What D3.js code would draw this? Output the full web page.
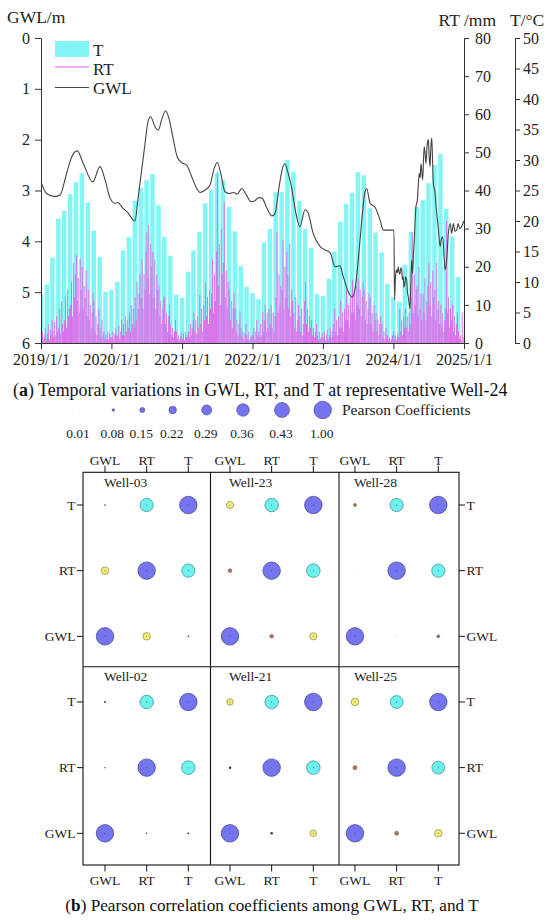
<!DOCTYPE html>
<html><head><meta charset="utf-8">
<script src="https://cdn.jsdelivr.net/npm/d3@7"></script>
<style>body{margin:0;background:#fff}svg{display:block}</style>
</head><body><svg id="c" width="550" height="920"></svg>
<script>
// ---------------- DATA ----------------
const yearTicks = ["2019-01-01","2020-01-01","2021-01-01","2022-01-01","2023-01-01","2024-01-01","2025-01-01"];
const gwlTicks = [0,1,2,3,4,5,6];
const rtTicks = [0,10,20,30,40,50,60,70,80];
const tTicks = [0,5,10,15,20,25,30,35,40,45,50];
// monthly temperature (°C), Jan 2019 .. Dec 2024
const tempMonthly = [
 7.9,9.6,14.0,20.4,21.7,24.4,26.4,27.8,23.0,18.4,14.1,8.4,
 8.7,10.0,15.2,17.4,23.3,25.4,26.7,27.7,22.6,17.4,14.3,7.9,
 7.4,11.7,15.2,18.2,22.9,25.1,27.8,26.7,22.3,18.3,12.6,9.2,
 8.2,7.2,16.5,18.7,24.7,24.8,30.0,28.0,23.3,18.7,15.6,8.0,
 7.7,10.5,15.0,19.9,22.8,24.6,28.0,27.5,22.1,18.1,14.8,9.7,
 7.5,6.8,12.8,18.2,22.3,23.4,26.2,29.2,31.0,22.0,17.5,10.8];
// rainfall (mm), six 5-day maxima per month
const rt2019 = [1.5,3,0.8,2,4,1.2, 2.5,5,1,3.5,2,6, 3,1.5,5.5,2,7,3, 4,9,2.5,11,5,3, 6,12,4,14,7,9, 10,16,7,21,12,18, 23,11,17,8,22,14, 20,9,15,12,19,7, 14,6,10,4,8,13, 11,3,7,2,5,9, 4,1.5,6,2,3,1, 2,0.8,3,1,2.5,1.5];
const rt2020 = [1.5,3,1,2.5,4,2, 2,4.5,1,3,6,2, 5,2,7,3,6,4, 8,3,10,5,9,4, 12,6,16,9,13,18, 12,22,9,18,14,24, 29,17,31,13,26,20, 24,12,22,9,18,14, 15,7,11,5,9,12, 12,5,8,3,7,10, 5,2,4,1.5,3,6, 3,1,2,0.8,1.5,2.5];
const rt2021 = [1,2.5,0.8,3,1.5,2, 3,1.5,5,2,4,6, 8,3,6,2.5,7,4, 12.6,5,9,3,10,6, 16,7,12,5,14,9, 13,22,8,18,11,24, 45,15,26,10,30,18, 21,37,12,19,9,16, 14,6,11,4,9,13, 9,3,6,2,5,8, 4,1.5,3,1,2.5,5, 2,1,3,0.8,1.5,2];
const rt2022 = [2,4,1,3,6,2, 3,1.5,5,2,8,3, 6,10,3,8,4,9, 5,10,4,8,3,7, 12,29,8,18,10,15, 14,27,9,20,12,24, 18,9,26,7,14,11, 8,4,12,3,6,10, 7,3,9,2,5,11, 16,5,9,3,7,4, 6,2,4,1.5,3,5, 2,0.8,3,1,1.5,2.5];
const rt2023 = [1.5,3,0.8,2,3.5,1, 2,4,1.5,3,5,2, 9,3,6,2,7,4, 11,4,8,3,9,6, 14,6,10,4,12,8, 16.5,8,13,6,15,10, 17,9,14,7,12,16, 14,6,11,5,9,13, 12,5,8,3,10,6, 8,3,6,2,5,7, 5,1.5,3,1,4,2, 2,0.8,1.5,0.5,1,2];
const rt2024 = [3,1,2,0.8,2.5,1.5, 9,3,6,2,7,4, 9,4,7,3,8,5, 12,29,8,18,10,14, 15,7,20,9,13,6, 13,8,17,6,11,15, 21,10,16,7,19,12, 14,6,21,9,11,5, 10,4,8,3,6,9, 32,8,12,4,9,6, 10,3,7,2,5,8, 3,1,2,0.8,8,1.5];
// groundwater level (m below surface)
const gwlDates = ["2019-01-01","2019-01-30","2019-03-14","2019-04-09","2019-05-14","2019-06-09","2019-07-08","2019-08-08","2019-09-26","2019-11-03","2019-11-29","2019-12-25",
"2020-01-19","2020-02-04","2020-03-01","2020-03-27","2020-04-22","2020-05-02","2020-05-18","2020-05-28","2020-06-19","2020-07-10","2020-07-22","2020-08-14","2020-08-31","2020-09-17","2020-10-08","2020-10-25","2020-11-17","2020-12-07","2020-12-30",
"2021-01-25","2021-02-20","2021-03-18","2021-04-04","2021-04-30","2021-05-26","2021-06-17","2021-07-03","2021-07-20","2021-08-11","2021-09-03","2021-09-24","2021-10-14","2021-11-06","2021-12-02","2021-12-24",
"2022-01-14","2022-02-04","2022-02-19","2022-03-17","2022-04-12","2022-04-28","2022-05-18","2022-06-03","2022-06-18","2022-07-04","2022-07-23","2022-08-09","2022-09-04","2022-09-30","2022-10-16","2022-11-11","2022-12-17",
"2023-01-12","2023-02-07","2023-03-05","2023-03-30","2023-04-17","2023-05-12","2023-06-01","2023-06-16","2023-07-03","2023-07-21","2023-08-07","2023-08-16","2023-09-02","2023-09-28","2023-10-24","2023-11-10","2023-12-01","2024-01-04",
"2024-01-07","2024-01-12","2024-01-17","2024-01-22","2024-01-26","2024-01-30","2024-02-04","2024-02-08","2024-02-13","2024-02-17","2024-02-21","2024-02-25","2024-03-01","2024-03-05","2024-03-10","2024-03-14","2024-03-18","2024-03-22","2024-03-27",
"2024-04-01","2024-04-05","2024-04-10","2024-04-14","2024-04-18","2024-04-27","2024-05-04","2024-05-09","2024-05-14","2024-05-19","2024-05-23","2024-06-01","2024-06-05","2024-06-09","2024-06-14","2024-06-18","2024-06-24","2024-06-30",
"2024-07-04","2024-07-09","2024-07-13","2024-07-18","2024-07-22","2024-07-26","2024-08-04","2024-08-09","2024-08-13","2024-08-22","2024-08-30","2024-09-06","2024-09-13","2024-09-20","2024-09-25","2024-10-03","2024-10-12","2024-10-21","2024-10-29",
"2024-11-07","2024-11-15","2024-11-24","2024-12-02","2024-12-10","2024-12-20","2024-12-31"];
const gwlValues = [2.83,3.06,3.12,3.09,2.66,2.34,2.22,2.47,2.83,2.53,2.79,3.15,
3.25,3.24,3.35,3.44,3.58,3.60,3.15,2.85,2.2,1.62,1.55,1.75,1.81,1.61,1.43,1.58,2.0,2.34,2.45,
2.5,2.73,2.96,3.04,2.99,2.89,2.56,2.45,2.66,3.02,3.06,3.04,3.07,2.96,3.1,3.22,
3.2,3.14,3.15,3.35,3.5,3.45,2.95,2.6,2.47,2.65,2.95,3.35,3.71,3.38,3.44,3.84,4.1,
4.17,4.22,4.5,4.48,4.7,4.99,5.1,4.95,4.37,3.6,3.02,2.96,3.25,3.33,3.58,3.78,3.78,3.78,
5.15,4.7,4.56,4.62,4.5,4.6,4.65,4.52,4.56,4.75,4.7,4.9,4.82,4.7,4.76,5.0,5.09,5.2,5.32,
4.8,4.37,4.63,4.24,4.0,3.32,3.19,2.9,2.66,2.75,2.47,2.79,2.4,2.14,2.3,2.47,2.1,2.0,
2.3,2.53,2.15,1.97,2.4,2.86,3.05,3.3,3.45,3.8,4.1,3.95,3.91,4.3,4.56,4.37,3.84,3.65,3.84,
3.65,3.8,3.78,3.65,3.75,3.71,3.6];
// Pearson correlations
const wells = ["Well-03","Well-23","Well-28","Well-02","Well-21","Well-25"];
const vars = ["GWL","RT","T"];
const rowVars = ["T","RT","GWL"];
const rTGWL  = [0.04,0.21,0.09,0.05,0.19,0.22];
const rRTGWL = [0.22,0.11,0.01,0.03,0.08,0.12];
const rTRT   = [0.38,0.39,0.38,0.39,0.39,0.37];
const legendLevels = [0.01,0.08,0.15,0.22,0.29,0.36,0.43,1.00];

// ---------------- DRAW ----------------
const svg = d3.select("#c");
const parse = d3.timeParse("%Y-%m-%d");
const FONT = "Liberation Serif, DejaVu Serif, serif";
svg.style("font-family", FONT);
const AX = "#333";
const PINK = "#e65ae8";
const x = d3.scaleTime().domain([parse("2019-01-01"), parse("2025-01-01")]).range([41, 464]);
const yG = d3.scaleLinear().domain([0, 6]).range([38, 343]);
const yR = d3.scaleLinear().domain([0, 80]).range([343, 38]);
const yT = d3.scaleLinear().domain([0, 50]).range([343, 38]);

svg.append("clipPath").attr("id","pc").append("rect").attr("x",41).attr("y",30).attr("width",423).attr("height",313);
const plot = svg.append("g").attr("clip-path","url(#pc)");

// T bars
const bw = 4.5;
plot.append("g").selectAll("rect").data(tempMonthly).join("rect")
  .attr("x",(d,i)=>x(new Date(2019,i,1))-bw/2).attr("width",bw)
  .attr("y",d=>yT(d)).attr("height",d=>yT(0)-yT(d)).attr("fill","#82f6f6");

// RT needles
const rtAll = [];
[rt2019,rt2020,rt2021,rt2022,rt2023,rt2024].forEach((arr,yi)=>arr.forEach((v,i)=>{
  rtAll.push({date:new Date(2019+yi, Math.floor(i/6), 3+5*(i%6)), v});
}));
plot.append("g").selectAll("line").data(rtAll).join("line")
  .attr("x1",d=>x(d.date)).attr("x2",d=>x(d.date))
  .attr("y1",yR(0)).attr("y2",d=>yR(d.v))
  .attr("stroke",PINK).attr("stroke-width",0.85);

// GWL line
const gwl = gwlDates.map((d,i)=>({date:parse(d), v:gwlValues[i]}));
plot.append("path").datum(gwl)
  .attr("d", d3.line().x(d=>x(d.date)).y(d=>yG(d.v)).curve(d3.curveMonotoneX))
  .attr("fill","none").attr("stroke","#444").attr("stroke-width",1.1);

function styleAxis(g, fs){
  g.attr("font-family", null).attr("font-size", null);
  g.selectAll("path.domain").attr("stroke",AX).attr("stroke-width",1);
  g.selectAll(".tick line").attr("stroke",AX);
  g.selectAll("text").style("font-family",FONT).style("font-size",fs+"px").attr("fill","#222");
}
const fmt = d3.timeFormat("%Y/%-m/%-d");
svg.append("g").attr("transform","translate(0,343)")
  .call(d3.axisBottom(x).tickValues(yearTicks.map(parse)).tickFormat(fmt).tickSize(6).tickSizeOuter(0).tickPadding(5))
  .call(g=>styleAxis(g,16));
svg.append("g").attr("transform","translate(41,0)")
  .call(d3.axisLeft(yG).tickValues(gwlTicks).tickFormat(d3.format("d")).tickSize(6).tickSizeOuter(0).tickPadding(5))
  .call(g=>styleAxis(g,16));
svg.append("g").attr("transform","translate(464,0)")
  .call(d3.axisRight(yR).tickValues(rtTicks).tickFormat(d3.format("d")).tickSize(5).tickSizeOuter(0).tickPadding(6))
  .call(g=>styleAxis(g,16));
svg.append("g").attr("transform","translate(515,0)")
  .call(d3.axisRight(yT).tickValues(tTicks).tickFormat(d3.format("d")).tickSize(5).tickSizeOuter(0).tickPadding(3))
  .call(g=>styleAxis(g,16));

const txt = (xx,yy,s,fs,anchor)=>svg.append("text").attr("x",xx).attr("y",yy).text(s)
  .style("font-family",FONT).style("font-size",fs+"px").attr("fill","#222").attr("text-anchor",anchor||"start");
txt(7,23,"GWL/m",17.5);
txt(496,26,"RT /mm",17.5,"end");
txt(510,26,"T/°C",17.5);

// legend (a)
svg.append("rect").attr("x",55).attr("y",41).attr("width",34).attr("height",16).attr("fill","#82f6f6");
svg.append("line").attr("x1",55).attr("x2",89).attr("y1",67).attr("y2",67).attr("stroke",PINK).attr("stroke-width",1.2);
svg.append("line").attr("x1",55).attr("x2",89).attr("y1",87.5).attr("y2",87.5).attr("stroke","#444").attr("stroke-width",1.2);
txt(93,55.5,"T",17);
txt(93,75,"RT",17);
txt(93,94,"GWL",17);

// caption (a)
const capA = svg.append("text").attr("x",13).attr("y",396).style("font-family",FONT).style("font-size","17.9px").attr("fill","#111");
capA.append("tspan").text("(");
capA.append("tspan").attr("font-weight","bold").text("a");
capA.append("tspan").text(") Temporal variations in GWL, RT, and T at representative Well-24");

// ---------------- Pearson panel ----------------
const rScale = d3.scaleLinear().domain(legendLevels).range(legendLevels.map((d,i)=> i===0 ? 0.45 : 1.25*i));
const cScale = d3.scaleThreshold().domain([0.02,0.085,0.17,0.3,0.6])
  .range(["#bbbbbb","#333333","#c8896b","#f3ef78","#6cf0f0","#7474ee"]);

// size legend
const legX = [79,113.3,142.3,172.7,206.7,243,282,322.7];
svg.append("g").selectAll("circle").data(legendLevels).join("circle")
  .attr("cx",(d,i)=>legX[i]).attr("cy",410).attr("r",d=>rScale(d))
  .attr("fill",d=>d<0.05?"#bbb":"#7474ee").attr("stroke",d=>d<0.05?"none":"#3c3c8a").attr("stroke-width",0.6);
svg.append("g").selectAll("text").data(legendLevels).join("text")
  .attr("x",(d,i)=>legX[i]-1).attr("y",438).attr("text-anchor","middle")
  .style("font-family",FONT).style("font-size","13.5px").attr("fill","#222").text(d=>d.toFixed(2));
txt(342,414.5,"Pearson Coefficients",15.5);

// grid
const colX = d3.scaleLinear().domain([0,8]).range([105,438.3]);
const rowY = d3.scaleLinear().domain([0,5]).range([505,833.3]);
const frameL = 83, frameR = 459, frameT = 472.3, frameB = 865, frameM = 666.7;
const dividers = [210.5, 339];
const fr = svg.append("g").attr("stroke","#111").attr("stroke-width",1.1).attr("fill","none");
fr.append("rect").attr("x",frameL).attr("y",frameT).attr("width",frameR-frameL).attr("height",frameB-frameT);
dividers.forEach(dx=>fr.append("line").attr("x1",dx).attr("x2",dx).attr("y1",frameT).attr("y2",frameB));
fr.append("line").attr("x1",frameL).attr("x2",frameR).attr("y1",frameM).attr("y2",frameM);

// ticks & labels
const tk = svg.append("g").attr("stroke","#111").attr("stroke-width",1);
d3.range(9).forEach(i=>{
  tk.append("line").attr("x1",colX(i)).attr("x2",colX(i)).attr("y1",frameT-6.5).attr("y2",frameT);
  tk.append("line").attr("x1",colX(i)).attr("x2",colX(i)).attr("y1",frameB).attr("y2",frameB+6.5);
  txt(colX(i),464.5,vars[i%3],13.5,"middle");
  txt(colX(i),885,vars[i%3],13.5,"middle");
});
d3.range(6).forEach(j=>{
  tk.append("line").attr("x1",frameL-6).attr("x2",frameL).attr("y1",rowY(j)).attr("y2",rowY(j));
  tk.append("line").attr("x1",frameR).attr("x2",frameR+6).attr("y1",rowY(j)).attr("y2",rowY(j));
  txt(frameL-7.5,rowY(j)+4.5,rowVars[j%3],13.5,"end");
  txt(frameR+7.5,rowY(j)+4.5,rowVars[j%3],13.5,"start");
});

// cells
const cells = [];
wells.forEach((w,k)=>{
  const p = k%3, q = Math.floor(k/3);
  const get = (a,b)=>{
    if(a===b) return 1.0;
    const s = [a,b].sort().join("-");
    return s==="GWL-T" ? rTGWL[k] : s==="GWL-RT" ? rRTGWL[k] : rTRT[k];
  };
  rowVars.forEach((rv,ri)=>vars.forEach((cv,ci)=>{
    cells.push({x:colX(p*3+ci), y:rowY(q*3+ri), v:get(rv,cv)});
  }));
  txt(colX(p*3)-1, q===0?487:681, w, 13.5);
});
const cg = svg.append("g");
cg.selectAll("circle.c").data(cells).join("circle").attr("class","c")
  .attr("cx",d=>d.x).attr("cy",d=>d.y).attr("r",d=>rScale(d.v))
  .attr("fill",d=>cScale(d.v))
  .attr("stroke",d=>d.v<0.085?"none":d3.color(cScale(d.v)).darker(1.6))
  .attr("stroke-width",0.7);
cg.selectAll("circle.dot").data(cells.filter(d=>d.v>=0.085)).join("circle").attr("class","dot")
  .attr("cx",d=>d.x).attr("cy",d=>d.y).attr("r",0.5).attr("fill","#444");

// caption (b)
const capB = svg.append("text").attr("x",272).attr("y",911).attr("text-anchor","middle").style("font-family",FONT).style("font-size","17.2px").attr("fill","#111");
capB.append("tspan").text("(");
capB.append("tspan").attr("font-weight","bold").text("b");
capB.append("tspan").text(") Pearson correlation coefficients among GWL, RT, and T");
</script></body></html>
